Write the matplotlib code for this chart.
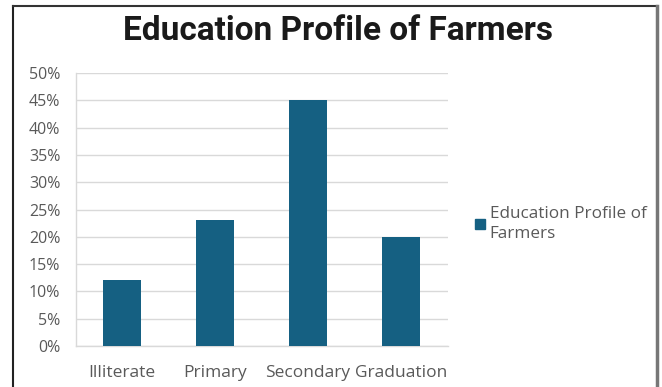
import matplotlib.pyplot as plt
from matplotlib.lines import Line2D
from matplotlib.ticker import PercentFormatter
import numpy as np

categories = ["Illiterate", "Primary", "Secondary", "Graduation"]
shares = [12, 23, 45, 20]
series_name = "Education Profile of\nFarmers"

BAR_COLOR = "#156082"
TEXT_COLOR = "#595959"
GRID_COLOR = "#d9d9d9"

plt.rcParams["font.family"] = ["Open Sans", "DejaVu Sans"]

fig = plt.figure(figsize=(6.62, 3.87), dpi=100)
ax = fig.add_axes([75.5 / 662, 1 - 346 / 387, 372 / 662, 273 / 387])

x = np.arange(len(categories))
ax.bar(x, shares, width=0.4, color=BAR_COLOR, zorder=3)

ax.set_xlim(-0.5, len(categories) - 0.5)
ax.set_ylim(0, 50)
ax.set_yticks(np.arange(0, 51, 5))
ax.yaxis.set_major_formatter(PercentFormatter(decimals=0))
ax.set_xticks(x)
ax.set_xticklabels(categories)
ax.tick_params(axis="x", length=0, labelsize=12.5, colors=TEXT_COLOR, pad=13.5)
ax.tick_params(axis="y", length=0, labelsize=11.5, colors=TEXT_COLOR, pad=11)

ax.grid(axis="y", color=GRID_COLOR, linewidth=1, zorder=0)
for side in ["top", "right"]:
    ax.spines[side].set_visible(False)
for side in ["left", "bottom"]:
    ax.spines[side].set_color(GRID_COLOR)
    ax.spines[side].set_linewidth(1)

fig.text(338 / 662, 1 - 31 / 387, "Education Profile of Farmers",
         ha="center", va="center", fontsize=24, fontweight="bold",
         color="#1a1a1a", family=["Roboto", "DejaVu Sans"])

# legend entry on the right
handle = Line2D([], [], marker="s", linestyle="none", markersize=6.5, color=BAR_COLOR)
leg = fig.legend([handle], [series_name], loc="center left",
                 bbox_to_anchor=(458 / 662, 1 - 224 / 387), frameon=False,
                 fontsize=12.3, labelcolor=TEXT_COLOR, handletextpad=0.15,
                 handlelength=0.8)
for t in leg.get_texts():
    t.set_linespacing(1.35)

# outer border lines
fig.add_artist(Line2D([13 / 662, 13 / 662], [0, 1 - 6 / 387], color="#222222", linewidth=1.5))
fig.add_artist(Line2D([13 / 662, 657 / 662], [1 - 6 / 387, 1 - 6 / 387], color="#333333", linewidth=1.5))
fig.add_artist(Line2D([657 / 662, 657 / 662], [0, 1 - 6 / 387], color="#777777", linewidth=2.5))

fig.savefig("out.png", dpi=100)
